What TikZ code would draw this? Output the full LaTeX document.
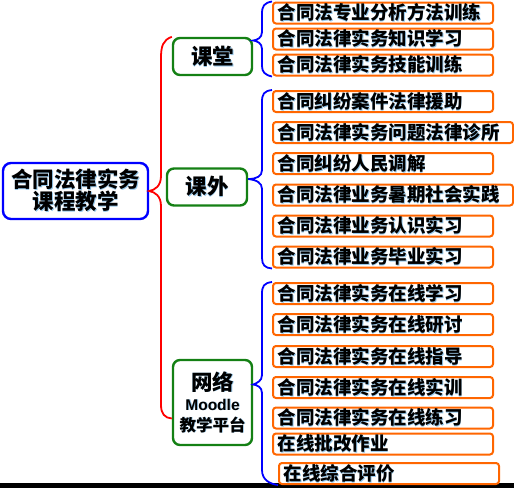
\documentclass[tikz,border=0pt]{standalone}
\usepackage{fontspec}
\setmainfont{Noto Sans CJK SC}
\newfontfamily\latinsf{Liberation Sans}
\usepackage{xcolor}
\usepackage{tikz}
\usetikzlibrary{positioning}

\definecolor{leafline}{RGB}{255,102,0}
\definecolor{catline}{RGB}{20,128,20}
\definecolor{glowcol}{RGB}{150,200,235}
\newcommand{\glow}[1]{\makebox[0pt][l]{\hspace{0.9pt}\raisebox{-0.9pt}{\textcolor{glowcol}{#1}}}#1}

\begin{document}
\begin{tikzpicture}[
  x=1pt, y=-1pt,
  rootbox/.style={draw=blue, line width=2.4pt, rounded corners=8pt, fill=white,
    minimum width=145pt, minimum height=56pt, align=center, font=\bfseries\fontsize{21.5}{23}\selectfont},
  catbox/.style={draw=catline, line width=2.4pt, rounded corners=7pt, fill=white,
    minimum width=79pt, minimum height=37pt, align=center, font=\bfseries\fontsize{21.5}{24}\selectfont},
  leaf/.style={draw=leafline, line width=2pt, rounded corners=3pt, anchor=west,
    text width=211pt, inner xsep=4.5pt, minimum height=21pt, align=left,
    inner ysep=0pt, font=\bfseries\fontsize{18.5}{19}\selectfont},
  wideleaf/.style={leaf, text width=231pt},
  redbrace/.style={draw=red, line width=1.8pt},
  bluebrace/.style={draw=blue, line width=1.8pt}
]
\useasboundingbox (0,0) rectangle (514,488);
\fill[black] (0,483) rectangle (514,488);

% root
\node[rootbox] (root) at (75.5,191) {\glow{合同法律实务}\\[-1pt]\glow{课程教学}};

% categories
\node[catbox] (ketang) at (212.5,56.5) {\glow{课堂}};
\node[catbox, minimum width=80pt] (kewai) at (207,187) {\glow{课外}};
\node[catbox, minimum height=85pt] (wangluo) at (212.5,402.5)
  {\glow{网络}\\[-4pt]{\latinsf\fontsize{15.5}{16}\selectfont\glow{Moodle}}\\[-3pt]{\fontsize{16.5}{18}\selectfont\glow{教学平台}}};

% leaves of 课堂
\node[leaf] (k1) at (272,13) {\glow{合同法专业分析方法训练}};
\node[leaf] (k2) at (272,39) {\glow{合同法律实务知识学习}};
\node[leaf] (k3) at (272,65) {\glow{合同法律实务技能训练}};

% leaves of 课外
\node[leaf] (w1) at (272,101.5) {\glow{合同纠纷案件法律援助}};
\node[wideleaf] (w2) at (272,132.5) {\glow{合同法律实务问题法律诊所}};
\node[leaf] (w3) at (272,163.5) {\glow{合同纠纷人民调解}};
\node[wideleaf] (w4) at (272,195) {\glow{合同法律业务暑期社会实践}};
\node[leaf] (w5) at (272,226) {\glow{合同法律业务认识实习}};
\node[leaf] (w6) at (272,257) {\glow{合同法律业务毕业实习}};

% leaves of 网络
\node[leaf] (n1) at (272,293.5) {\glow{合同法律实务在线学习}};
\node[leaf] (n2) at (272,324.5) {\glow{合同法律实务在线研讨}};
\node[leaf] (n3) at (272,356.5) {\glow{合同法律实务在线指导}};
\node[leaf] (n4) at (272,387.5) {\glow{合同法律实务在线实训}};
\node[leaf] (n5) at (272,418) {\glow{合同法律实务在线练习}};
\node[leaf] (n6) at (272,444) {\glow{在线批改作业}};
\node[leaf] (n7) at (278,473.5) {\glow{在线综合评价}};

% brace tips
\coordinate (rtip) at (root.east);
\coordinate (ktip) at ([yshift=16pt]ketang.east);
\coordinate (wtip) at ([yshift=8pt]kewai.east);
\coordinate (ntip) at ([yshift=18pt]wangluo.east);

% red brace
\draw[redbrace] (ketang.north west) .. controls (163,40) and (161,46) .. (161,58)
  -- (161,176) .. controls (161,186) and (155,190) .. (rtip)
  .. controls (155,192) and (161,196) .. (161,206)
  -- (161,405) .. controls (161,414) and (165,418) .. ([yshift=-16pt]wangluo.west);

% blue braces
\draw[bluebrace] (k1.north west) .. controls (264,3) and (262,6) .. (262,14)
  -- (262,32) .. controls (262,38) and (257,40) .. (ktip)
  .. controls (257,41) and (262,43) .. (262,49)
  -- (262,66) .. controls (262,72) and (265,75) .. (k3.south west);
\draw[bluebrace] (w1.north west) .. controls (264,91) and (262,94) .. (262,102)
  -- (262,170) .. controls (262,176) and (257,179) .. (wtip)
  .. controls (257,180) and (262,183) .. (262,189)
  -- (262,258) .. controls (262,265) and (265,268) .. (w6.south west);
\draw[bluebrace] (n1.north west) .. controls (264,283) and (262,286) .. (262,294)
  -- (262,375) .. controls (262,381) and (257,383) .. (ntip)
  .. controls (257,385) and (262,387) .. (262,393)
  -- (262,470) .. controls (262,480) and (270,484) .. (n7.south west);
\end{tikzpicture}
\end{document}
